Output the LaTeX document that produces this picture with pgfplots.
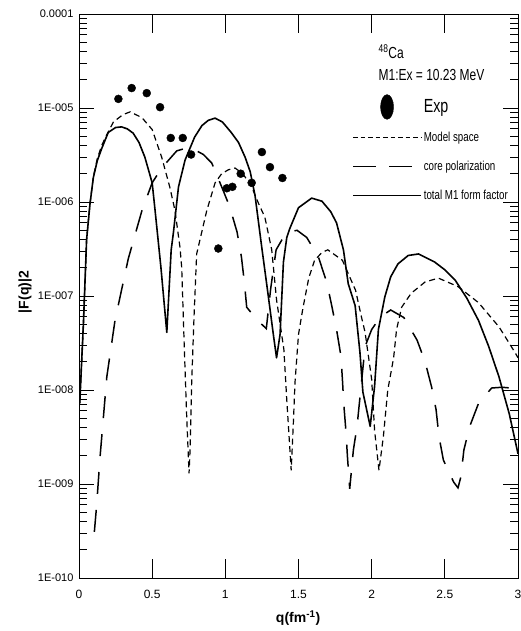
\documentclass[border=0pt]{standalone}
\usepackage{fontspec}
\setmainfont{Liberation Sans}
\newfontfamily\narrowfont{Liberation Sans}[FakeStretch=0.75]
\usepackage{pgfplots}
\pgfplotsset{compat=1.18}

\pgfplotsset{
  explegend/.style={legend image code/.code={%
      \begin{pgfinterruptboundingbox}\draw[##1] plot coordinates {(34pt,0pt)};\end{pgfinterruptboundingbox}%
      \pgfpathrectangle{\pgfpoint{0pt}{-7pt}}{\pgfpoint{68pt}{14pt}}\pgfusepath{discard}}},
}

\begin{document}
\begin{tikzpicture}
\begin{axis}[
    at={(79pt,53pt)}, anchor=south west,
    scale only axis, width=439pt, height=564pt,
    xmin=0, xmax=3,
    ymode=log, ymin=1e-10, ymax=1e-4,
    axis line style={line width=1pt},
    tick align=inside,
    every tick/.style={black, line width=0.8pt},
    major tick length=15pt, minor tick length=8pt,
    xtick={0,1,2,3}, xticklabels={0,1,2,3},
    xtick style={/pgfplots/major tick length=19pt},
    extra x ticks={0.5,1.5,2.5},
    extra x tick labels={0.5,1.5,2.5},
    extra x tick style={major tick length=10pt,
        tick label style={font=\fontsize{9}{10}\selectfont}},
    xticklabel style={font=\fontsize{12}{13}\selectfont, yshift=-9pt},
    ytick={1e-10,1e-9,1e-8,1e-7,1e-6,1e-5,1e-4},
    yticklabels={1E-010,1E-009,1E-008,1E-007,1E-006,1E-005,0.0001},
    minor ytick={2e-10,3e-10,4e-10,5e-10,6e-10,7e-10,8e-10,9e-10,
                 2e-9,3e-9,4e-9,5e-9,6e-9,7e-9,8e-9,9e-9,
                 2e-8,3e-8,4e-8,5e-8,6e-8,7e-8,8e-8,9e-8,
                 2e-7,3e-7,4e-7,5e-7,6e-7,7e-7,8e-7,9e-7,
                 2e-6,3e-6,4e-6,5e-6,6e-6,7e-6,8e-6,9e-6,
                 2e-5,3e-5,4e-5,5e-5,6e-5,7e-5,8e-5,9e-5},
    yticklabel style={font=\fontsize{11}{12}\selectfont, xshift=-2pt},
    xlabel={q(fm\textsuperscript{-1})},
    xlabel style={font=\bfseries\fontsize{14}{16}\selectfont,
        at={(axis description cs:0.499,0)}, anchor=center, yshift=-40pt},
    ylabel={|F(q)|2},
    ylabel style={font=\bfseries\fontsize{14}{16}\selectfont,
        at={(axis description cs:-0.123,0.507)}, anchor=center},
    legend image code/.code={\draw[mark repeat=2,mark phase=2,#1] plot coordinates {(0pt,0pt) (34pt,0pt) (68pt,0pt)};},
    legend cell align=left,
    legend style={at={(axis description cs:0.622,0.852)}, anchor=north west,
        draw=none, fill=none, inner sep=0pt, row sep=14pt,
        nodes={inner sep=2pt},
        font=\narrowfont\fontsize{13}{15}\selectfont},
]

% total M1 form factor
\addplot[forget plot, black, line width=1.6pt, line join=round] coordinates {
(0.005,7.2e-9) (0.03,5.0e-8) (0.052,4.0e-7) (0.075,9.5e-7) (0.098,1.82e-6)
(0.125,2.75e-6) (0.155,3.7e-6) (0.20,5.5e-6) (0.25,6.2e-6) (0.29,6.3e-6)
(0.33,6.0e-6) (0.37,5.4e-6) (0.41,4.3e-6) (0.45,3.0e-6) (0.50,1.6e-6)
(0.52,8.1e-7) (0.56,2.0e-7) (0.60,4.1e-8) (0.63,3.1e-7) (0.645,4.7e-7)
(0.68,1.45e-6) (0.725,2.8e-6) (0.79,4.9e-6) (0.84,6.5e-6) (0.884,7.4e-6)
(0.93,7.8e-6) (0.98,7.1e-6) (1.04,5.5e-6) (1.09,4.3e-6) (1.135,3.0e-6)
(1.17,2.1e-6) (1.203,1.17e-6) (1.25,3.2e-7) (1.29,1.1e-7) (1.328,3.9e-8)
(1.35,2.2e-8) (1.374,3.9e-8) (1.397,2.3e-7) (1.42,4.2e-7) (1.44,5.2e-7)
(1.50,8.7e-7) (1.59,1.1e-6) (1.66,1.02e-6) (1.72,7.9e-7) (1.76,6.0e-7)
(1.807,3.1e-7) (1.84,1.35e-7) (1.887,7.9e-8) (1.92,2.5e-8) (1.94,9.5e-9)
(1.99,4.1e-9) (2.02,1.1e-8) (2.046,4.4e-8) (2.09,9.8e-8) (2.13,1.6e-7)
(2.18,2.2e-7) (2.25,2.7e-7) (2.32,2.8e-7) (2.43,2.3e-7) (2.50,1.9e-7)
(2.57,1.48e-7) (2.65,9.5e-8) (2.73,5.5e-8) (2.80,2.9e-8) (2.87,1.38e-8)
(2.94,5.6e-9) (3.0,2.1e-9)
};

% model space
\addplot[forget plot, black, line width=1.2pt, dash pattern=on 6pt off 4pt] coordinates {
(0.005,7.2e-9) (0.03,5.0e-8) (0.052,4.0e-7) (0.075,9.6e-7) (0.098,1.85e-6)
(0.125,2.9e-6) (0.155,4.0e-6) (0.19,5.2e-6) (0.235,7.1e-6) (0.30,8.5e-6)
(0.35,9.1e-6) (0.43,7.9e-6) (0.50,5.9e-6) (0.565,3.0e-6) (0.62,1.45e-6)
(0.656,8.1e-7) (0.69,3.3e-7) (0.702,2.0e-7) (0.72,2.7e-8) (0.736,5.2e-9)
(0.752,1.3e-9) (0.759,2.3e-9) (0.77,1.2e-8) (0.786,6.0e-8) (0.804,2.8e-7)
(0.873,8.1e-7) (0.93,1.6e-6) (0.975,2.0e-6) (1.02,2.2e-6) (1.066,2.3e-6)
(1.12,2.0e-6) (1.18,1.45e-6) (1.225,9.8e-7) (1.27,6.9e-7) (1.317,3.1e-7)
(1.35,9.1e-8) (1.40,2.7e-8) (1.42,7.8e-9) (1.45,1.4e-9) (1.465,4.5e-9)
(1.476,1.2e-8) (1.50,3.9e-8) (1.53,7.4e-8) (1.57,1.55e-7) (1.61,2.4e-7)
(1.66,2.9e-7) (1.70,3.1e-7) (1.80,2.4e-7) (1.89,1.15e-7) (1.93,6.0e-8)
(1.955,4.1e-8) (2.0,1.3e-8) (2.02,3.7e-9) (2.05,1.4e-9) (2.08,3.2e-9)
(2.11,1.0e-8) (2.15,2.2e-8) (2.17,4.4e-8) (2.205,7.6e-8) (2.27,1.07e-7)
(2.365,1.41e-7) (2.456,1.55e-7) (2.59,1.26e-7) (2.73,8.5e-8) (2.87,4.7e-8)
(2.98,2.5e-8) (3.0,2.2e-8)
};

% core polarization
\addplot[forget plot, black, line width=1.5pt, dash pattern=on 22pt off 16pt] coordinates {
(0.105,3.1e-10) (0.12,5.8e-10) (0.144,1.95e-9) (0.19,1.38e-8) (0.246,5.5e-8)
(0.337,2.5e-7) (0.43,8.1e-7) (0.50,1.6e-6) (0.565,2.3e-6) (0.668,3.5e-6)
(0.747,3.8e-6) (0.79,3.6e-6) (0.85,3.2e-6) (0.907,2.6e-6) (0.975,1.45e-6)
(1.03,8.9e-7) (1.08,4.8e-7) (1.11,2.6e-7) (1.13,1.4e-7) (1.146,7.6e-8)
(1.20,6.0e-8) (1.237,5.2e-8) (1.28,4.5e-8) (1.31,1.2e-7) (1.347,3.1e-7)
(1.40,4.3e-7) (1.437,4.8e-7) (1.49,5.0e-7) (1.556,4.2e-7) (1.636,2.6e-7)
(1.693,1.4e-7) (1.727,7.9e-8) (1.76,4.4e-8) (1.79,2.3e-8) (1.80,1.3e-8)
(1.81,6.9e-9) (1.825,3.5e-9) (1.834,2.0e-9) (1.85,8.9e-10) (1.875,2.3e-9)
(1.90,4.1e-9) (1.955,2.9e-8) (2.0,4.4e-8) (2.06,6.0e-8) (2.13,7.1e-8)
(2.22,5.9e-8) (2.31,3.4e-8) (2.365,2.0e-8) (2.41,1.07e-8) (2.44,6.2e-9)
(2.46,3.2e-9) (2.49,1.8e-9) (2.56,1.05e-9) (2.59,9.1e-10) (2.61,1.2e-9)
(2.63,2.3e-9) (2.67,4.1e-9) (2.73,7.2e-9) (2.82,1.05e-8) (2.89,1.07e-8)
(2.95,1.05e-8) (3.0,9.5e-9)
};

% experiment
\addplot[forget plot, only marks, mark=*, mark size=4pt, black] coordinates {
(0.269,1.25e-5) (0.36,1.63e-5) (0.463,1.44e-5) (0.554,1.02e-5)
(0.627,4.8e-6) (0.709,4.8e-6) (0.766,3.2e-6) (0.952,3.2e-7)
(1.01,1.4e-6) (1.048,1.45e-6) (1.105,2.0e-6) (1.18,1.6e-6)
(1.25,3.4e-6) (1.305,2.35e-6) (1.39,1.8e-6)
};

\addlegendimage{only marks, mark=*, black, mark size=6.5pt, mark options={yscale=1.9}, explegend}
\addlegendentry{\fontsize{19}{21}\selectfont Exp}
\addlegendimage{black, line width=1.2pt, dash pattern=on 4.5pt off 3pt}
\addlegendentry{Model space}
\addlegendimage{black, line width=1.5pt, dash pattern=on 23pt off 13pt}
\addlegendentry{core polarization}
\addlegendimage{black, line width=1.6pt}
\addlegendentry{total M1 form factor}

\node[anchor=base west, inner sep=0pt, font=\narrowfont\fontsize{16}{18}\selectfont]
    at (axis description cs:0.682,0.9215) {\textsuperscript{48}Ca};
\node[anchor=base west, inner sep=0pt, font=\narrowfont\fontsize{16}{18}\selectfont]
    at (axis description cs:0.682,0.8816) {M1:Ex = 10.23 MeV};
\end{axis}
\pgfresetboundingbox
\useasboundingbox (0,0) rectangle (521pt,631pt);
\end{tikzpicture}
\end{document}
